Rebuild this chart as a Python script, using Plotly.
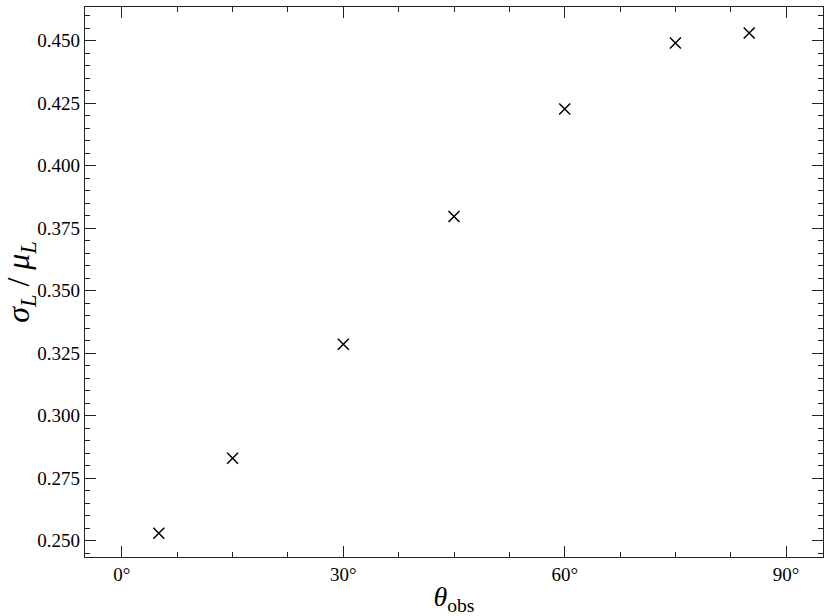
import plotly.graph_objects as go

# ------------------------------------------------------------------ data

theta_obs = [5, 15, 30, 45, 60, 75, 85]
sigma_over_mu = [0.2530, 0.2830, 0.3286, 0.3797, 0.4227, 0.4491, 0.4531]

x_tick_values = [0, 30, 60, 90]
x_tick_labels = ["0°", "30°", "60°", "90°"]
y_tick_values = [0.250, 0.275, 0.300, 0.325, 0.350, 0.375, 0.400, 0.425, 0.450]
y_tick_labels = ["0.250", "0.275", "0.300", "0.325", "0.350", "0.375", "0.400", "0.425", "0.450"]

# ------------------------------------------------------------------ style

font_family = "Liberation Serif"
line_color = "#222222"
tick_font = dict(family=font_family, size=19, color="black")

fig = go.Figure()

fig.add_trace(go.Scatter(
    x=theta_obs,
    y=sigma_over_mu,
    mode="markers",
    marker=dict(symbol="x-thin", size=11, color="black",
                line=dict(color="black", width=1.5)),
    showlegend=False,
))

fig.update_xaxes(
    range=[-5, 95],
    tickmode="array",
    tickvals=x_tick_values,
    ticktext=x_tick_labels,
    tickfont=tick_font,
    showline=True, linecolor=line_color, linewidth=1.2, mirror="allticks",
    ticks="inside", ticklen=11, tickwidth=1.2, tickcolor=line_color,
    minor=dict(ticks="inside", dtick=7.5, tick0=0, ticklen=5,
               tickwidth=1, tickcolor=line_color),
    showgrid=False, zeroline=False, automargin=False,
    title=dict(text="<i>θ</i><sub>obs</sub>",
               font=dict(family=font_family, size=28, color="black"),
               standoff=4),
)

fig.update_yaxes(
    range=[0.2435, 0.4635],
    tickmode="array",
    tickvals=y_tick_values,
    ticktext=y_tick_labels,
    tickfont=tick_font,
    showline=True, linecolor=line_color, linewidth=1.2, mirror="allticks",
    ticks="inside", ticklen=11, tickwidth=1.2, tickcolor=line_color,
    minor=dict(ticks="inside", dtick=0.005, tick0=0.25, ticklen=5,
               tickwidth=1, tickcolor=line_color),
    showgrid=False, zeroline=False, automargin=False,
    title=dict(text="<i>σ</i><sub><i>L</i></sub> / <i>μ</i><sub><i>L</i></sub>",
               font=dict(family=font_family, size=32, color="black"),
               standoff=6),
)

fig.update_layout(
    width=831,
    height=616,
    margin=dict(l=85, r=8, t=7, b=59, autoexpand=False),
    paper_bgcolor="white",
    plot_bgcolor="white",
    font=dict(family=font_family, color="black"),
)

fig.write_html("out.html", config={"displayModeBar": False},
               post_script="document.body.style.margin = '0';")
